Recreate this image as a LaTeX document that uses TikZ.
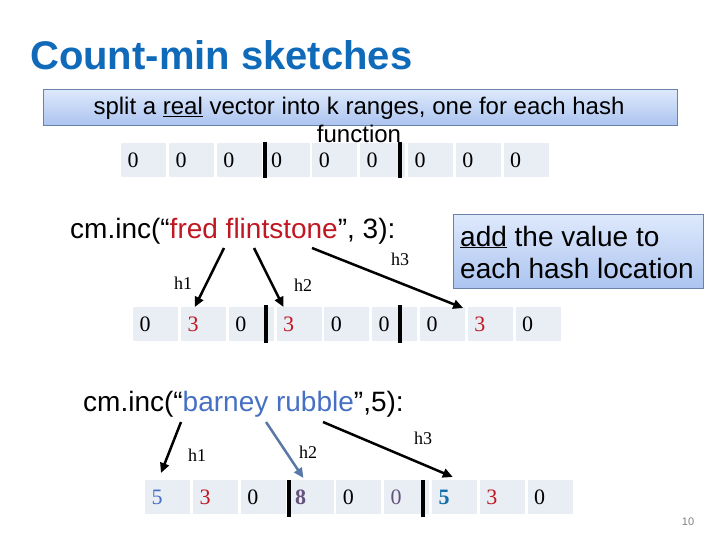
\documentclass[tikz,border=0pt]{standalone}
\usepackage{fontspec}
\setmainfont{Liberation Serif}
\setsansfont{Liberation Sans}
\usetikzlibrary{arrows.meta,calc,positioning}
\definecolor{titleblue}{RGB}{16,106,186}
\definecolor{fredred}{RGB}{192,24,34}
\definecolor{barneyblue}{RGB}{70,112,196}
\definecolor{sumpurple}{RGB}{100,82,124}
\definecolor{sumteal}{RGB}{20,110,170}
\definecolor{steelarrow}{RGB}{88,120,168}
\definecolor{cellgray}{RGB}{233,237,244}
\definecolor{boxtop}{RGB}{222,233,252}
\definecolor{boxbot}{RGB}{172,196,240}
\definecolor{boxedge}{RGB}{104,130,168}
\tikzset{
  cell/.style={anchor=north west,fill=cellgray,minimum width=45pt,minimum height=34pt,
    inner xsep=6.5pt,inner ysep=0pt,text width=32pt,align=left,font=\fontsize{22}{22}\selectfont},
  bluebox/.style={draw=boxedge,top color=boxtop,bottom color=boxbot,anchor=north west},
  sepbar/.style={line width=4pt},
  hash/.style={->,line width=2.5pt},
  hlab/.style={font=\fontsize{18}{18}\selectfont},
  call/.style={font=\sffamily\fontsize{28}{28}\selectfont,anchor=base west,inner sep=0pt},
}
% one row of the sketch: name, left x, top y, digit/colour list
\newcommand{\cmrow}[4]{%
  \foreach \d/\c [count=\i] in {#4}
    \node[cell,text=\c] (#1\i) at ({#2+47.8*(\i-1)},#3) {\d};}

\begin{document}
\begin{tikzpicture}[x=1pt,y=-1pt,>={Triangle[length=10pt,width=9pt]}]
\useasboundingbox (0,0) rectangle (720,540);
\node[font=\bfseries\sffamily\fontsize{40}{40}\selectfont,text=titleblue,anchor=base west,inner sep=0pt] (title) at (30,70) {Count-min sketches};

% --- empty sketch
\node[bluebox,minimum width=634pt,minimum height=36pt] (splitbox) at (43,89) {};
\node[font=\sffamily\fontsize{24}{28}\selectfont,align=center,anchor=base,inner sep=0pt] (splittext) at (359,143)
  {split a \underline{real} vector into k ranges, one for each hash\\function};
\cmrow{a}{121}{143}{0/black,0/black,0/black,0/black,0/black,0/black,0/black,0/black,0/black}
\draw[sepbar] (265,142) -- (265,178);
\draw[sepbar] (400,142) -- (400,178);

% --- first insert
\node[call] (fred) at (70,238) {cm.inc(“\textcolor{fredred}{fred flintstone}”, 3):};
\node[bluebox,minimum width=250pt,minimum height=74pt] (addbox) at (453,214) {};
\node[font=\sffamily\fontsize{28}{32}\selectfont,align=left,anchor=base west,inner sep=0pt] (addtext) at (460,278)
  {\underline{add} the value to\\each hash location};
\cmrow{b}{133}{307}{0/black,3/fredred,0/black,3/fredred,0/black,0/black,0/black,3/fredred,0/black}
\draw[sepbar] (266,305) -- (266,343);
\draw[sepbar] (400,305) -- (400,343);
\coordinate (f1) at (224,248);
\coordinate (f2) at (254,248);
\coordinate (f3) at (312,248);
\draw[hash] (f1) -- ($(b2.north west)+(14,0)$);
\draw[hash] (f2) -- ($(b4.north west)+(7,0)$);
\draw[hash] (f3) -- ($(b7.north east)+(-2,1)$);
\node[hlab] (fh1) at (183,283) {h1};
\node[hlab] (fh2) at (303,285) {h2};
\node[hlab] (fh3) at (400,259) {h3};

% --- second insert
\node[call] (barney) at (83,411) {cm.inc(“\textcolor{barneyblue}{barney rubble}”,5):};
\cmrow{c}{145}{480}{5/barneyblue,3/fredred,0/black,\textbf{8}/sumpurple,0/black,0/sumpurple,\textbf{5}/sumteal,3/fredred,0/black}
\draw[sepbar] (289,480) -- (289,517);
\draw[sepbar] (423,480) -- (423,517);
\coordinate (g1) at (181,422);
\coordinate (g2) at (266,422);
\coordinate (g3) at (323,422);
\draw[hash] (g1) -- ($(c1.north west)+(16,-7)$);
\draw[hash,steelarrow] (g2) -- ($(c4.north west)+(15,-2)$);
\draw[hash] (g3) -- ($(c7.north west)+(21,-3)$);
\node[hlab] (gh1) at (197,455) {h1};
\node[hlab] (gh2) at (308,452) {h2};
\node[hlab] (gh3) at (423,438) {h3};

\node[text=gray,font=\sffamily\fontsize{11}{11}\selectfont] (pageno) at (688,522) {10};
\end{tikzpicture}
\end{document}
